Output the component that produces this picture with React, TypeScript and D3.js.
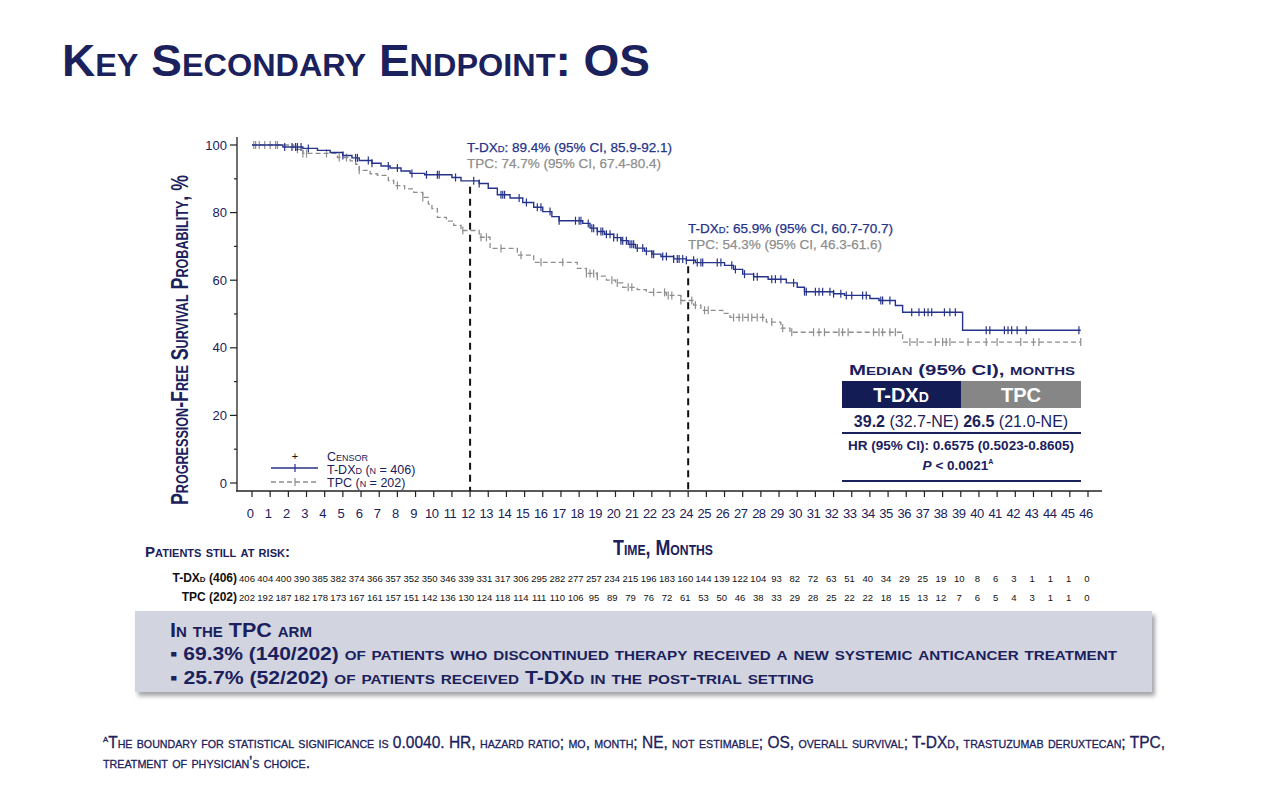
import * as d3 from "d3";

const NAVY = "#1b215c";
const BLUE = "#26338a";
const GREY = "#8e8e8e";
const SANS = "'Liberation Sans', Arial, Helvetica, sans-serif";
const NARROW = "'Liberation Sans Narrow', 'Liberation Sans', Arial, sans-serif";

// Kaplan-Meier steps (months, % alive)
const tdxdTimes = [0, 1.7, 2.8, 3.6, 4.3, 5.0, 5.5, 5.9, 6.6, 7.1, 7.6, 8.2, 8.7, 9.5, 11.0, 11.5, 12.5, 13.0, 13.5, 14.2, 14.9, 15.5, 16.0, 16.5, 16.9, 18.2, 18.6, 19.0, 19.4, 19.9, 20.3, 20.7, 21.1, 21.6, 22.0, 22.5, 23.2, 23.9, 24.4, 26.0, 26.5, 27.0, 27.6, 28.4, 29.4, 30.0, 30.4, 32.0, 32.6, 34.0, 34.5, 35.4, 35.8, 39.1];
const tdxdSurv = [100, 99.4, 99, 98.4, 97.8, 96.9, 96.2, 95.4, 94.6, 93.8, 93.2, 92.3, 91.6, 91.2, 90.4, 89.4, 88.6, 87.2, 85.3, 84.3, 83, 81.6, 80.3, 78.8, 77.6, 76.8, 75.4, 74.4, 73.6, 72.6, 71.7, 70.6, 69.5, 68.6, 67.7, 67.0, 66.3, 65.9, 65.2, 64.4, 63.2, 61.8, 61.0, 60.3, 59.2, 57.9, 56.6, 56.0, 55.5, 54.6, 54.0, 52.5, 50.5, 45.2];
const tpcTimes = [0, 2.3, 2.8, 4.7, 5.4, 5.7, 5.9, 6.5, 6.9, 7.5, 7.8, 8.4, 8.9, 9.4, 9.7, 9.9, 10.2, 10.7, 11.1, 11.5, 12.5, 13.1, 14.6, 15.5, 17.9, 18.4, 19.0, 19.5, 20.0, 20.4, 21.2, 21.7, 22.8, 23.6, 24.3, 24.7, 25.9, 26.3, 28.3, 29.1, 29.6, 35.8];
const tpcSurv = [100, 98.7, 97.5, 96.3, 95.3, 94.3, 92.5, 91.5, 91, 89.5, 88, 87, 86, 84.5, 82.5, 81.2, 78.6, 77.5, 76.2, 74.7, 72.7, 69.4, 67.4, 65.3, 63.5, 62, 61.2, 60, 59.2, 57.9, 57.2, 56.4, 55.5, 54.0, 52.6, 51.1, 50.2, 49, 47.6, 45.8, 44.6, 41.7];
const lastFollowUp = 45.6;

const tdxdCensor = [1.8, 2.2, 2.4, 2.5, 2.7, 3.1, 5.0, 5.7, 5.8, 6.4, 6.6, 7.5, 8.0, 8.8, 9.6, 10.2, 10.3, 11.2, 12.2, 12.5, 13.7, 13.8, 13.9, 14.7, 15.1, 15.7, 15.9, 16.4, 16.9, 17.8, 18.0, 18.1, 18.5, 18.7, 18.8, 19.0, 19.2, 19.3, 19.5, 19.7, 19.9, 20.1, 20.3, 20.4, 20.6, 20.8, 20.9, 21.0, 21.2, 21.5, 21.7, 22.0, 22.1, 22.6, 22.8, 23.2, 23.4, 23.5, 23.7, 23.9, 24.3, 24.5, 24.7, 24.8, 25.6, 25.8, 26.4, 26.6, 27.1, 27.6, 27.8, 28.6, 28.8, 29.1, 29.8, 30.4, 30.5, 31.0, 31.2, 31.4, 31.8, 32.0, 32.4, 32.7, 33.0, 33.6, 33.8, 34.6, 34.7, 35.1, 36.3, 36.7, 37.0, 37.2, 37.4, 38.1, 38.4, 38.7, 40.4, 40.6, 41.4, 41.6, 41.8, 42.1, 42.6, 45.5];
const tpcCensor = [0.1, 0.2, 0.4, 0.7, 1.0, 1.3, 1.4, 2.5, 2.8, 3.0, 4.1, 4.8, 5.2, 5.9, 8.0, 9.4, 11.6, 12.6, 12.9, 13.7, 14.8, 15.9, 17.1, 18.4, 18.6, 18.8, 19.0, 19.8, 20.1, 20.7, 20.9, 22.1, 22.7, 22.9, 23.1, 23.6, 24.2, 24.4, 24.9, 25.1, 26.5, 26.8, 27.0, 27.3, 27.5, 27.8, 28.1, 28.6, 29.2, 29.7, 30.9, 31.2, 31.5, 32.3, 32.5, 32.8, 34.2, 34.5, 34.7, 35.1, 35.4, 36.2, 36.6, 37.6, 38.0, 38.2, 38.4, 39.4, 40.4, 41.0, 42.3, 43.0, 43.3, 45.6];

const riskTdxd = [406, 404, 400, 390, 385, 382, 374, 366, 357, 352, 350, 346, 339, 331, 317, 306, 295, 282, 277, 257, 234, 215, 196, 183, 160, 144, 139, 122, 104, 93, 82, 72, 63, 51, 40, 34, 29, 25, 19, 10, 8, 6, 3, 1, 1, 1, 0];
const riskTpc = [202, 192, 187, 182, 178, 173, 167, 161, 157, 151, 142, 136, 130, 124, 118, 114, 111, 110, 106, 95, 89, 79, 76, 72, 61, 53, 50, 46, 38, 33, 29, 28, 25, 22, 22, 18, 15, 13, 12, 7, 6, 5, 4, 3, 1, 1, 0];

const yTicks = [0, 20, 40, 60, 80, 100];
const yMinor = [10, 30, 50, 70, 90];
const xTicks = d3.range(0, 47);
const landmarks = [12, 24];

const x = d3.scaleLinear().domain([0, 46]).range([252, 1088]);
const y = d3.scaleLinear().domain([0, 100]).range([483, 145]);
const xRisk = d3.scaleLinear().domain([0, 46]).range([247, 1087]);
const AXIS_Y = 491;
const AXIS_X = 237;

function survAt(times: number[], surv: number[], t: number) {
  const i = Math.max(0, d3.bisectRight(times, t) - 1);
  return surv[i];
}

const line = d3
  .line<[number, number]>()
  .x((d) => x(d[0]))
  .y((d) => y(d[1]))
  .curve(d3.curveStepAfter);

function kmPath(times: number[], surv: number[]) {
  const pts: [number, number][] = times.map((t, i) => [t, surv[i]]);
  pts.push([lastFollowUp, surv[surv.length - 1]]);
  return line(pts) || "";
}

const sc = { fontVariant: "small-caps" } as const;

export default function App() {
  return (
    <svg
      width={1280}
      height={800}
      style={{ position: "absolute", left: 0, top: 0, background: "#fff" }}
    >
      <defs>
        <filter id="shadow" x="-5%" y="-20%" width="110%" height="150%">
          <feDropShadow dx="3" dy="4" stdDeviation="2" floodColor="#7d7f86" floodOpacity="0.7" />
        </filter>
      </defs>

      {/* title */}
      <text x={62} y={76} fill={NAVY} fontFamily={SANS} fontWeight="bold" fontSize={44}
        style={sc} textLength={588} lengthAdjust="spacingAndGlyphs">
        Key Secondary Endpoint: OS
      </text>

      {/* y axis */}
      <line x1={AXIS_X} x2={AXIS_X} y1={137} y2={AXIS_Y} stroke="#222" strokeWidth={1.3} />
      {yTicks.map((t) => (
        <g key={t}>
          <line x1={AXIS_X - 7} x2={AXIS_X} y1={y(t)} y2={y(t)} stroke="#222" strokeWidth={1.2} />
          <text x={AXIS_X - 10} y={y(t)} dy="0.35em" textAnchor="end" fontFamily={SANS}
            fontSize={13} fill={NAVY}>{t}</text>
        </g>
      ))}
      {yMinor.map((t) => (
        <line key={t} x1={AXIS_X - 3} x2={AXIS_X} y1={y(t)} y2={y(t)} stroke="#222" strokeWidth={1.2} />
      ))}
      <text transform="translate(188,340) rotate(-90)" textAnchor="middle" fill={NAVY}
        fontFamily={NARROW} fontWeight="bold" fontSize={24} style={sc}
        textLength={330} lengthAdjust="spacingAndGlyphs">
        Progression-Free Survival Probability, %
      </text>

      {/* x axis */}
      <line x1={236} x2={1102} y1={AXIS_Y} y2={AXIS_Y} stroke="#222" strokeWidth={1.3} />
      {xTicks.map((t) => (
        <g key={t}>
          <line x1={x(t)} x2={x(t)} y1={AXIS_Y} y2={AXIS_Y + 6} stroke="#222" strokeWidth={1.2} />
          <text x={x(t) - 2} y={518} textAnchor="middle" fontFamily={SANS} fontSize={13}
            fill={NAVY} letterSpacing={-0.5}>{t}</text>
        </g>
      ))}
      <text x={663} y={555} textAnchor="middle" fill={NAVY} fontFamily={NARROW}
        fontWeight="bold" fontSize={22} style={sc} textLength={100}
        lengthAdjust="spacingAndGlyphs">
        Time, Months
      </text>

      {/* landmark lines */}
      {landmarks.map((t) => (
        <line key={t} x1={x(t)} x2={x(t)} y1={y(survAt(tdxdTimes, tdxdSurv, t)) + 6}
          y2={AXIS_Y} stroke="#111" strokeWidth={2} strokeDasharray="7,5" />
      ))}

      {/* curves */}
      <path d={kmPath(tpcTimes, tpcSurv)} fill="none" stroke={GREY} strokeWidth={1.3}
        strokeDasharray="5,3" />
      {tpcCensor.map((t, i) => {
        const cy = y(survAt(tpcTimes, tpcSurv, t));
        return <line key={i} x1={x(t)} x2={x(t)} y1={cy - 4} y2={cy + 4} stroke={GREY} strokeWidth={1.2} />;
      })}
      <path d={kmPath(tdxdTimes, tdxdSurv)} fill="none" stroke={BLUE} strokeWidth={1.4} />
      {tdxdCensor.map((t, i) => {
        const cy = y(survAt(tdxdTimes, tdxdSurv, t));
        return <line key={i} x1={x(t)} x2={x(t)} y1={cy - 4} y2={cy + 4} stroke={BLUE} strokeWidth={1.2} />;
      })}

      {/* landmark annotations */}
      <g fontFamily={SANS} fontSize={13} style={sc} stroke="currentColor" strokeWidth={0.25}>
        <text x={467} y={152} fill={BLUE} color={BLUE} textLength={205} lengthAdjust="spacingAndGlyphs">T-DXd: 89.4% (95% CI, 85.9-92.1)</text>
        <text x={467} y={168} fill={GREY} color={GREY} textLength={194} lengthAdjust="spacingAndGlyphs">TPC: 74.7% (95% CI, 67.4-80.4)</text>
        <text x={688} y={233} fill={BLUE} color={BLUE} textLength={205} lengthAdjust="spacingAndGlyphs">T-DXd: 65.9% (95% CI, 60.7-70.7)</text>
        <text x={688} y={249} fill={GREY} color={GREY} textLength={194} lengthAdjust="spacingAndGlyphs">TPC: 54.3% (95% CI, 46.3-61.6)</text>
      </g>

      {/* legend */}
      <g fontFamily={SANS} fontSize={12.5} fill={NAVY} style={sc}>
        <text x={295} y={460} textAnchor="middle" fontSize={11} fill="#111">+</text>
        <text x={327} y={461}>Censor</text>
        <line x1={271} x2={318} y1={468} y2={468} stroke={BLUE} strokeWidth={1.3} />
        <line x1={295} x2={295} y1={464} y2={472} stroke={BLUE} strokeWidth={1.2} />
        <text x={327} y={474}>T-DXd (n = 406)</text>
        <line x1={271} x2={318} y1={482} y2={482} stroke={GREY} strokeWidth={1.3} strokeDasharray="5,3" />
        <line x1={295} x2={295} y1={478} y2={486} stroke={GREY} strokeWidth={1.2} />
        <text x={327} y={487}>TPC (n = 202)</text>
      </g>

      {/* median table */}
      <g fontFamily={SANS} fill={NAVY}>
        <text x={962} y={375} textAnchor="middle" fontSize={15} fontWeight="bold" style={sc}
          textLength={226} lengthAdjust="spacingAndGlyphs">Median (95% CI), months</text>
        <rect x={842} y={381} width={119} height={27} fill="#141c55" />
        <rect x={961} y={381} width={120} height={27} fill="#868686" />
        <text x={901} y={402} textAnchor="middle" fontSize={20} fontWeight="bold" fill="#fff" style={sc}>T-DXd</text>
        <text x={1021} y={402} textAnchor="middle" fontSize={20} fontWeight="bold" fill="#fff">TPC</text>
        <text x={961} y={427} textAnchor="middle" fontSize={16}>
          <tspan fontWeight="bold">39.2</tspan> (32.7-NE) <tspan fontWeight="bold">26.5</tspan> (21.0-NE)
        </text>
        <line x1={842} x2={1081} y1={433} y2={433} stroke={NAVY} strokeWidth={2} />
        <text x={961} y={450} textAnchor="middle" fontSize={13.5} fontWeight="bold">
          HR (95% CI): 0.6575 (0.5023-0.8605)
        </text>
        <text x={958} y={470} textAnchor="middle" fontSize={13.5} fontWeight="bold">
          <tspan fontStyle="italic">P</tspan> &lt; 0.0021<tspan fontSize={7} dy={-6}>A</tspan>
        </text>
        <line x1={842} x2={1081} y1={481} y2={481} stroke={NAVY} strokeWidth={2} />
      </g>

      {/* risk table */}
      <text x={145} y={557} fill={NAVY} fontFamily={NARROW} fontWeight="bold" fontSize={15}
        style={sc} textLength={145} lengthAdjust="spacingAndGlyphs">
        Patients still at risk:
      </text>
      <g fontFamily={SANS} fill="#111">
        <text x={237} y={582} textAnchor="end" fontSize={12} fontWeight="bold" style={sc}>T-DXd (406)</text>
        <text x={237} y={601} textAnchor="end" fontSize={12} fontWeight="bold">TPC (202)</text>
        {riskTdxd.map((n, i) => (
          <text key={"a" + i} x={xRisk(i)} y={582} textAnchor="middle" fontSize={9.5}>{n}</text>
        ))}
        {riskTpc.map((n, i) => (
          <text key={"b" + i} x={xRisk(i)} y={601} textAnchor="middle" fontSize={9.5}>{n}</text>
        ))}
      </g>

      {/* TPC arm box */}
      <rect x={135} y={611} width={1017} height={81} fill="#d2d5df" filter="url(#shadow)" />
      <g fontFamily={NARROW} fontWeight="bold" fill={NAVY} style={sc}>
        <text x={170} y={637} fontSize={20} textLength={142} lengthAdjust="spacingAndGlyphs">
          In the TPC arm
        </text>
        <text x={170} y={660} fontSize={18} textLength={947} lengthAdjust="spacingAndGlyphs">
          ▪ 69.3% (140/202) of patients who discontinued therapy received a new systemic anticancer treatment
        </text>
        <text x={170} y={684} fontSize={18} textLength={644} lengthAdjust="spacingAndGlyphs">
          ▪ 25.7% (52/202) of patients received T-DXd in the post-trial setting
        </text>
      </g>

      {/* footnote */}
      <g fontFamily={NARROW} fill={NAVY} style={sc} stroke={NAVY} strokeWidth={0.3}>
        <text x={103} y={748} fontSize={16} textLength={1062} lengthAdjust="spacingAndGlyphs">
          <tspan fontSize={8} dy={-6}>A</tspan><tspan dy={6}>The boundary for statistical significance is 0.0040. HR, hazard ratio; mo, month; NE, not estimable; OS, overall survival; T-DXd, trastuzumab deruxtecan; TPC,</tspan>
        </text>
        <text x={103} y={768} fontSize={16} textLength={207} lengthAdjust="spacingAndGlyphs">
          treatment of physician's choice.
        </text>
      </g>
    </svg>
  );
}
